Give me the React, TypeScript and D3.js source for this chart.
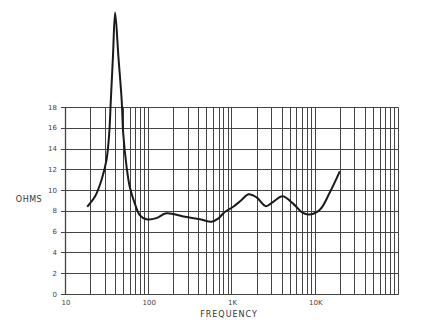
import React from "react";
import * as d3 from "d3";

const freqs = [18.5, 23, 27.5, 31.5, 34, 35.5, 37.7, 40, 43.8, 48, 50, 55, 60, 69, 79, 95, 125, 160, 200, 265, 420, 575, 690, 830, 1050, 1300, 1600, 2000, 2600, 3200, 4100, 5500, 7200, 8700, 11500, 15000, 20000];
const ohms = [8.4, 9.4, 11.0, 12.9, 15.5, 18.6, 22.9, 27.1, 22.85, 18.6, 15.5, 12.2, 10.3, 8.7, 7.6, 7.2, 7.3, 7.75, 7.7, 7.45, 7.2, 6.95, 7.25, 7.9, 8.4, 9.0, 9.6, 9.3, 8.45, 8.9, 9.4, 8.7, 7.8, 7.65, 8.1, 9.7, 11.8];
const yTicks = [0, 2, 4, 6, 8, 10, 12, 14, 16, 18];
const xTickLabels = [
  { f: 10, label: "10" },
  { f: 100, label: "100" },
  { f: 1000, label: "1K" },
  { f: 10000, label: "10K" },
];

export default function App() {
  const x = d3.scaleLog().domain([10, 100000]).range([65, 398]);
  const y = d3.scaleLinear().domain([0, 18]).range([294, 107]);
  const snap = (v: number) => Math.round(v) + 0.5;

  const gridF: number[] = [];
  for (let k = 1; k <= 4; k++) {
    for (let m = 1; m <= 9; m++) gridF.push(m * Math.pow(10, k));
  }
  gridF.push(100000);

  const line = d3
    .line<number>()
    .x((_, i) => x(freqs[i]))
    .y((v) => y(v))
    .curve(d3.curveCatmullRom.alpha(0.5));

  const textColor = "#444";
  const gridColor = "#444";

  return (
    <svg
      width={426}
      height={326}
      style={{ position: "absolute", left: 0, top: 0, background: "#fff" }}
      fontFamily="'DejaVu Sans', sans-serif"
    >
      <rect x={0} y={0} width={426} height={326} fill="#fff" />
      {yTicks.map((t) => (
        <line key={"h" + t} x1={61} x2={snap(398)} y1={snap(y(t))} y2={snap(y(t))} stroke={gridColor} strokeWidth={1} />
      ))}
      {gridF.map((f) => (
        <line key={"v" + f} x1={snap(x(f))} x2={snap(x(f))} y1={snap(y(18))} y2={snap(y(0))} stroke={gridColor} strokeWidth={1} />
      ))}
      <line x1={snap(x(10))} x2={snap(x(10))} y1={snap(y(18))} y2={snap(y(0))} stroke={gridColor} strokeWidth={1.3} />
      {yTicks.map((t) => (
        <text key={"yl" + t} x={57} y={y(t) + 2.5} fontSize={7} textAnchor="end" fill={textColor}>
          {t}
        </text>
      ))}
      {xTickLabels.map((d) => (
        <text key={"xl" + d.f} x={x(d.f) + 1} y={305} fontSize={7} textAnchor="middle" fill={textColor}>
          {d.label}
        </text>
      ))}
      <text x={229} y={317} fontSize={8} textAnchor="middle" fill="#333" letterSpacing={1}>
        FREQUENCY
      </text>
      <text x={29} y={202} fontSize={8} textAnchor="middle" fill="#333" letterSpacing={0.5}>
        OHMS
      </text>
      <path d={line(ohms) || ""} fill="none" stroke="#1a1a1a" strokeWidth={2} strokeLinejoin="round" />
    </svg>
  );
}
